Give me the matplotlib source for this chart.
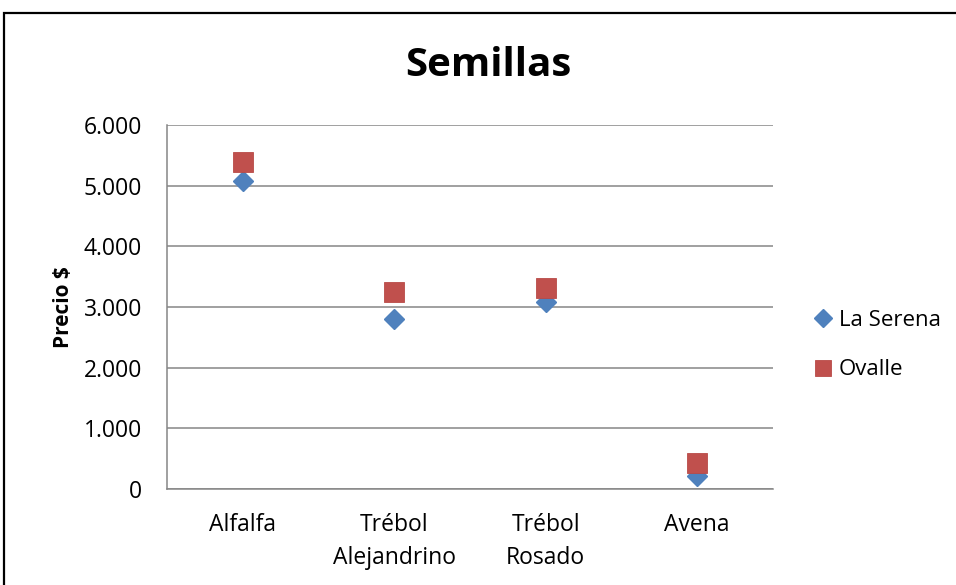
import matplotlib.pyplot as plt
from matplotlib.patches import Rectangle

# ── Data ───────────────────────────────────────────────────────────────────
categories = ["Alfalfa", "Trébol\nAlejandrino", "Trébol\nRosado", "Avena"]
la_serena = [5070, 2800, 3090, 220]
ovalle = [5390, 3245, 3320, 435]
y_ticks = [0, 1000, 2000, 3000, 4000, 5000, 6000]

BLUE = "#4F81BD"
RED = "#C0504D"
GRID = "#868686"
FONT = "Open Sans"

W, H = 956, 585
fig = plt.figure(figsize=(W / 100, H / 100), dpi=100)

# outer chart frame (cut off on right and bottom as in the reference)
fig.patches.append(Rectangle((4 / W, -0.2), 1.2, 1.2 - 13 / H,
                             transform=fig.transFigure, fill=False,
                             edgecolor="black", linewidth=1.6))

ax = fig.add_axes([167 / W, 1 - 489 / H, 606 / W, 364 / H])

x = list(range(1, len(categories) + 1))
ax.plot(x, la_serena, linestyle="none", marker="D", markersize=10.6,
        color=BLUE, markeredgecolor=BLUE, label="La Serena", clip_on=False, zorder=3)
ax.plot(x, ovalle, linestyle="none", marker="s", markersize=14.2,
        color=RED, markeredgecolor="#B84A47", markeredgewidth=0.6,
        label="Ovalle", clip_on=False, zorder=4)

ax.set_xlim(0.5, len(categories) + 0.5)
ax.set_ylim(0, 6000)
ax.set_yticks(y_ticks)
ax.set_yticklabels([f"{v:,.0f}".replace(",", ".") for v in y_ticks],
                   fontsize=16.5, family=FONT)
ax.set_xticks(x)
ax.set_xticklabels(categories, fontsize=16.5, family=FONT, linespacing=1.52)
ax.tick_params(axis="y", length=0, pad=18)
ax.tick_params(axis="x", length=0, pad=17)

ax.grid(True, axis="y", color=GRID, linewidth=1.1)
ax.set_axisbelow(True)
for side in ["top", "right"]:
    ax.spines[side].set_visible(False)
for side in ["left", "bottom"]:
    ax.spines[side].set_color(GRID)
    ax.spines[side].set_linewidth(1.1)

ax.set_ylabel("Precio $", fontsize=15, fontweight="bold", family=FONT)
ax.yaxis.set_label_coords(-(167 - 74) / 606, 0.5)

fig.text(488 / W, 1 - 65 / H, "Semillas", fontsize=29, fontweight="bold",
         family=FONT, ha="center", va="center")

fig.legend(loc="center left", bbox_to_anchor=(801 / W, 1 - 345 / H),
           frameon=False, prop={"family": FONT, "size": 16},
           markerscale=0.86, handlelength=1.0, handletextpad=0.2,
           borderpad=0, labelspacing=1.3)

plt.savefig("out.png", dpi=100)
